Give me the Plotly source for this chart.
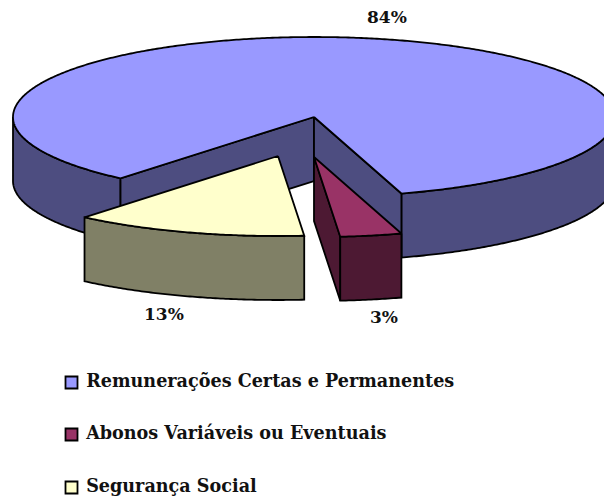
import numpy as np
import plotly.graph_objects as go

categories = ["Remunerações Certas e Permanentes", "Abonos Variáveis ou Eventuais", "Segurança Social"]
values = [84.2, 3.3, 12.5]
percent_labels = ["84%", "3%", "13%"]
top_colors = ["#9999FF", "#993366", "#FFFFCC"]
side_colors = ["#4D4D80", "#4D1933", "#808066"]
explode_dx = [0, 0, -36]
explode_dy = [0, 40, 39]
label_pos = [(387, 17), (384, 317), (164, 314)]
legend_y = [382.5, 434.5, 487.5]
LEGEND_SWATCH_X = 71.5
LEGEND_TEXT_SIZE = 17.6

CX, CY, RX, RY, DEPTH = 314, 117, 301, 80, 64
START_ANGLE = 220.0
FONT = "DejaVu Serif"
W, H = 604, 496


def rim(a, dx, dy, depth=0):
    t = np.radians(a)
    return CX + dx + RX * np.sin(t), CY + dy - RY * np.cos(t) + depth


def arc(a0, a1, dx, dy, depth=0):
    n = max(2, int(abs(a1 - a0)) * 2 + 1)
    return rim(np.linspace(a0, a1, n), dx, dy, depth)


def add_poly(fig, x, y, color):
    fig.add_trace(go.Scatter(
        x=list(x) + [x[0]], y=list(y) + [y[0]], mode="lines", fill="toself",
        fillcolor=color, line=dict(color="black", width=1.8, simplify=False),
        hoverinfo="skip", showlegend=False))


def add_side(fig, a0, a1, dx, dy, color):
    xt, yt = arc(a0, a1, dx, dy)
    xb, yb = arc(a1, a0, dx, dy, DEPTH)
    add_poly(fig, np.r_[xt, xb], np.r_[yt, yb], color)


def add_wall(fig, a, dx, dy, color):
    xr, yr = rim(np.array([a]), dx, dy)
    ax, ay = CX + dx, CY + dy
    add_poly(fig, [ax, xr[0], xr[0], ax], [ay, yr[0], yr[0] + DEPTH, ay + DEPTH], color)


def add_top(fig, a0, a1, dx, dy, color):
    xt, yt = arc(a0, a1, dx, dy)
    add_poly(fig, np.r_[CX + dx, xt], np.r_[CY + dy, yt], color)


total = sum(values)
angles = [START_ANGLE]
for v in values:
    angles.append(angles[-1] + v / total * 360)

fig = go.Figure()

a0, a1 = angles[0], angles[1]
add_side(fig, a0, 270, 0, 0, side_colors[0])
add_side(fig, 450, a1, 0, 0, side_colors[0])
add_wall(fig, a0, 0, 0, side_colors[0])
add_wall(fig, a1, 0, 0, side_colors[0])
add_top(fig, a0, a1, 0, 0, top_colors[0])

a0, a1 = angles[1], angles[2]
add_wall(fig, a1, explode_dx[1], explode_dy[1], side_colors[1])
add_side(fig, a0, a1, explode_dx[1], explode_dy[1], side_colors[1])
add_top(fig, a0, a1, explode_dx[1], explode_dy[1], top_colors[1])

a0, a1 = angles[2], angles[3]
add_side(fig, a0, a1, explode_dx[2], explode_dy[2], side_colors[2])
add_top(fig, a0, a1, explode_dx[2], explode_dy[2], top_colors[2])

for name, c, ly in zip(categories, top_colors, legend_y):
    fig.add_trace(go.Scatter(
        x=[LEGEND_SWATCH_X], y=[ly], mode="markers+text", text=[" " + name],
        textposition="middle right", cliponaxis=False, showlegend=False, hoverinfo="skip",
        textfont=dict(family=FONT, size=LEGEND_TEXT_SIZE, color="#111111", weight="bold"),
        marker=dict(symbol="square", size=12, color=c, line=dict(color="black", width=1.8))))

annotations = [
    dict(x=p[0], y=p[1], text=t, showarrow=False, xanchor="center", yanchor="middle",
         font=dict(family=FONT, size=17, color="#111111", weight="bold"))
    for t, p in zip(percent_labels, label_pos)
]

fig.update_layout(
    width=W, height=H, autosize=False,
    margin=dict(l=0, r=0, t=0, b=0),
    paper_bgcolor="white", plot_bgcolor="white",
    xaxis=dict(range=[0, W], visible=False, fixedrange=True),
    yaxis=dict(range=[H, 0], visible=False, fixedrange=True),
    annotations=annotations,
    showlegend=False,
)

fig.write_html("out.html", config={"displayModeBar": False},
               post_script="document.body.style.margin='0';document.documentElement.style.overflow='hidden';")
